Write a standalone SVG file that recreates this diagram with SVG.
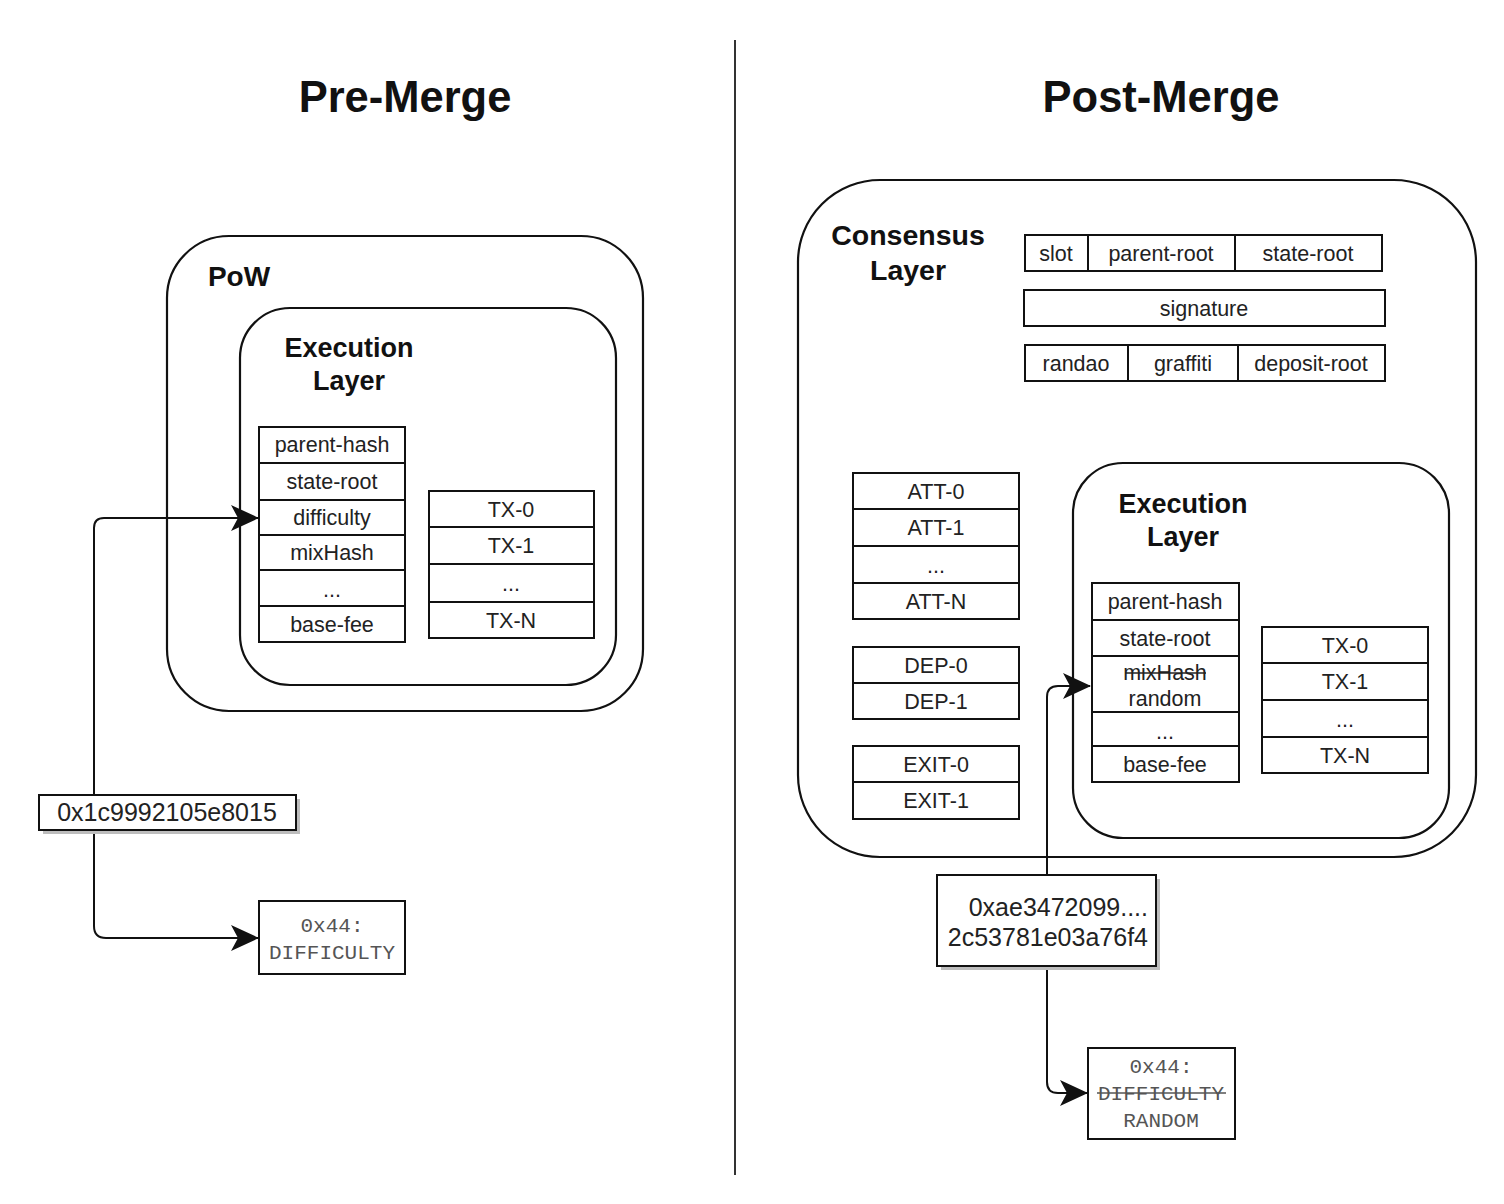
<svg xmlns="http://www.w3.org/2000/svg" width="1504" height="1204" viewBox="0 0 1504 1204">
<style>
.bg{fill:#ffffff}
.box{fill:#ffffff;stroke:#111;stroke-width:2}
.cont{fill:none;stroke:#111;stroke-width:2.2}
.t{font-family:"Liberation Sans",Arial,sans-serif;font-size:21.5px;fill:#222;text-anchor:middle}
.h{font-family:"Liberation Sans",Arial,sans-serif;font-weight:bold;fill:#111;text-anchor:middle}
.hash{font-family:"Liberation Sans",Arial,sans-serif;font-size:25px;fill:#222;text-anchor:middle}
.mono{font-family:"Liberation Mono","Courier New",monospace;font-size:21px;fill:#555;text-anchor:middle}
.conn{fill:none;stroke:#111;stroke-width:2}
.shadow{fill:#bdbdbd;stroke:none}
</style>
<defs>
<marker id="arr" viewBox="0 0 28 26" refX="27" refY="13" markerWidth="28" markerHeight="26" markerUnits="userSpaceOnUse" orient="auto">
<path d="M0,0 L28,13 L0,26 L7,13 z" fill="#111"/>
</marker>
</defs>
<rect class="bg" x="0" y="0" width="1504" height="1204"/>

<g id="divider"><line x1="735" y1="40" x2="735" y2="1175" stroke="#333" stroke-width="2"/></g>

<g id="title-pre"><text class="h" x="405" y="112" font-size="43.5">Pre-Merge</text></g>
<g id="title-post"><text class="h" x="1161" y="112" font-size="43.5">Post-Merge</text></g>

<!-- Pre-Merge -->
<g id="pow">
<rect class="cont" x="167" y="236" width="476" height="475" rx="62" ry="62"/>
<text class="h" x="239" y="286" font-size="28">PoW</text>
</g>
<g id="exec-pre">
<rect class="cont" x="240" y="308" width="376" height="377" rx="50" ry="50"/>
<text class="h" x="349" y="357" font-size="27">Execution</text>
<text class="h" x="349" y="390" font-size="27">Layer</text>
</g>
<g id="pre-fields">
<rect class="box" x="259" y="427" width="146" height="36"/><text class="t" x="332" y="452">parent-hash</text>
<rect class="box" x="259" y="463" width="146" height="37"/><text class="t" x="332" y="489">state-root</text>
<rect class="box" x="259" y="500" width="146" height="35"/><text class="t" x="332" y="525">difficulty</text>
<rect class="box" x="259" y="535" width="146" height="35"/><text class="t" x="332" y="560">mixHash</text>
<rect class="box" x="259" y="570" width="146" height="36"/><text class="t" x="332" y="597">...</text>
<rect class="box" x="259" y="606" width="146" height="36"/><text class="t" x="332" y="632">base-fee</text>
</g>
<g id="pre-tx">
<rect class="box" x="429" y="491" width="165" height="36"/><text class="t" x="511" y="517">TX-0</text>
<rect class="box" x="429" y="527" width="165" height="37"/><text class="t" x="511" y="553">TX-1</text>
<rect class="box" x="429" y="564" width="165" height="38"/><text class="t" x="511" y="591">...</text>
<rect class="box" x="429" y="602" width="165" height="36"/><text class="t" x="511" y="628">TX-N</text>
</g>

<!-- Post-Merge -->
<g id="consensus">
<rect class="cont" x="798" y="180" width="678" height="677" rx="82" ry="82"/>
<text class="h" x="908" y="245" font-size="28.5">Consensus</text>
<text class="h" x="908" y="280" font-size="28.5">Layer</text>
</g>
<g id="cl-header">
<rect class="box" x="1025" y="235" width="63" height="36"/><text class="t" x="1056" y="261">slot</text>
<rect class="box" x="1088" y="235" width="147" height="36"/><text class="t" x="1161" y="261">parent-root</text>
<rect class="box" x="1235" y="235" width="147" height="36"/><text class="t" x="1308" y="261">state-root</text>
<rect class="box" x="1024" y="290" width="361" height="36"/><text class="t" x="1204" y="316">signature</text>
<rect class="box" x="1025" y="345" width="103" height="36"/><text class="t" x="1076" y="371">randao</text>
<rect class="box" x="1128" y="345" width="110" height="36"/><text class="t" x="1183" y="371">graffiti</text>
<rect class="box" x="1238" y="345" width="147" height="36"/><text class="t" x="1311" y="371">deposit-root</text>
</g>
<g id="att">
<rect class="box" x="853" y="473" width="166" height="36"/><text class="t" x="936" y="499">ATT-0</text>
<rect class="box" x="853" y="509" width="166" height="37"/><text class="t" x="936" y="535">ATT-1</text>
<rect class="box" x="853" y="546" width="166" height="37"/><text class="t" x="936" y="573">...</text>
<rect class="box" x="853" y="583" width="166" height="36"/><text class="t" x="936" y="609">ATT-N</text>
</g>
<g id="dep">
<rect class="box" x="853" y="647" width="166" height="36"/><text class="t" x="936" y="673">DEP-0</text>
<rect class="box" x="853" y="683" width="166" height="36"/><text class="t" x="936" y="709">DEP-1</text>
</g>
<g id="exit">
<rect class="box" x="853" y="746" width="166" height="36"/><text class="t" x="936" y="772">EXIT-0</text>
<rect class="box" x="853" y="782" width="166" height="37"/><text class="t" x="936" y="808">EXIT-1</text>
</g>
<g id="exec-post">
<rect class="cont" x="1073" y="463" width="376" height="375" rx="50" ry="50"/>
<text class="h" x="1183" y="513" font-size="27">Execution</text>
<text class="h" x="1183" y="546" font-size="27">Layer</text>
</g>
<g id="post-fields">
<rect class="box" x="1092" y="583" width="147" height="37"/><text class="t" x="1165" y="609">parent-hash</text>
<rect class="box" x="1092" y="620" width="147" height="36"/><text class="t" x="1165" y="646">state-root</text>
<rect class="box" x="1092" y="656" width="147" height="56"/>
<text class="t" x="1165" y="680">mixHash</text>
<line x1="1125" y1="673" x2="1206" y2="673" stroke="#222" stroke-width="1.6"/>
<text class="t" x="1165" y="706">random</text>
<rect class="box" x="1092" y="712" width="147" height="34"/><text class="t" x="1165" y="739">...</text>
<rect class="box" x="1092" y="746" width="147" height="36"/><text class="t" x="1165" y="772">base-fee</text>
</g>
<g id="post-tx">
<rect class="box" x="1262" y="627" width="166" height="36"/><text class="t" x="1345" y="653">TX-0</text>
<rect class="box" x="1262" y="663" width="166" height="37"/><text class="t" x="1345" y="689">TX-1</text>
<rect class="box" x="1262" y="700" width="166" height="37"/><text class="t" x="1345" y="727">...</text>
<rect class="box" x="1262" y="737" width="166" height="36"/><text class="t" x="1345" y="763">TX-N</text>
</g>

<!-- connectors -->
<g id="connectors">
<path class="conn" d="M94,795 L94,528 Q94,518 104,518 L258,518" marker-end="url(#arr)"/>
<path class="conn" d="M94,830 L94,926 Q94,938 106,938 L258,938" marker-end="url(#arr)"/>
<path class="conn" d="M1047,875 L1047,697 Q1047,686 1058,686 L1090,686" marker-end="url(#arr)"/>
<path class="conn" d="M1047,966 L1047,1082 Q1047,1093 1058,1093 L1087,1093" marker-end="url(#arr)"/>
</g>

<!-- value boxes -->
<g id="hash-pre">
<rect class="shadow" x="43" y="799" width="257" height="35"/>
<rect class="box" x="39" y="795" width="257" height="35"/>
<text class="hash" x="167" y="821">0x1c9992105e8015</text>
</g>
<g id="opcode-pre">
<rect class="box" x="259" y="901" width="146" height="73"/>
<text class="mono" x="332" y="932">0x44:</text>
<text class="mono" x="332" y="959">DIFFICULTY</text>
</g>
<g id="hash-post">
<rect class="shadow" x="941" y="879" width="219" height="91"/>
<rect class="box" x="937" y="875" width="219" height="91"/>
<text class="hash" x="1148" y="916" text-anchor="end" style="text-anchor:end">0xae3472099....</text>
<text class="hash" x="1148" y="946" text-anchor="end" style="text-anchor:end">2c53781e03a76f4</text>
</g>
<g id="opcode-post">
<rect class="box" x="1088" y="1048" width="147" height="91"/>
<text class="mono" x="1161" y="1073">0x44:</text>
<text class="mono" x="1161" y="1100">DIFFICULTY</text>
<line x1="1097" y1="1093" x2="1226" y2="1093" stroke="#555" stroke-width="1.6"/>
<text class="mono" x="1161" y="1127">RANDOM</text>
</g>
</svg>
